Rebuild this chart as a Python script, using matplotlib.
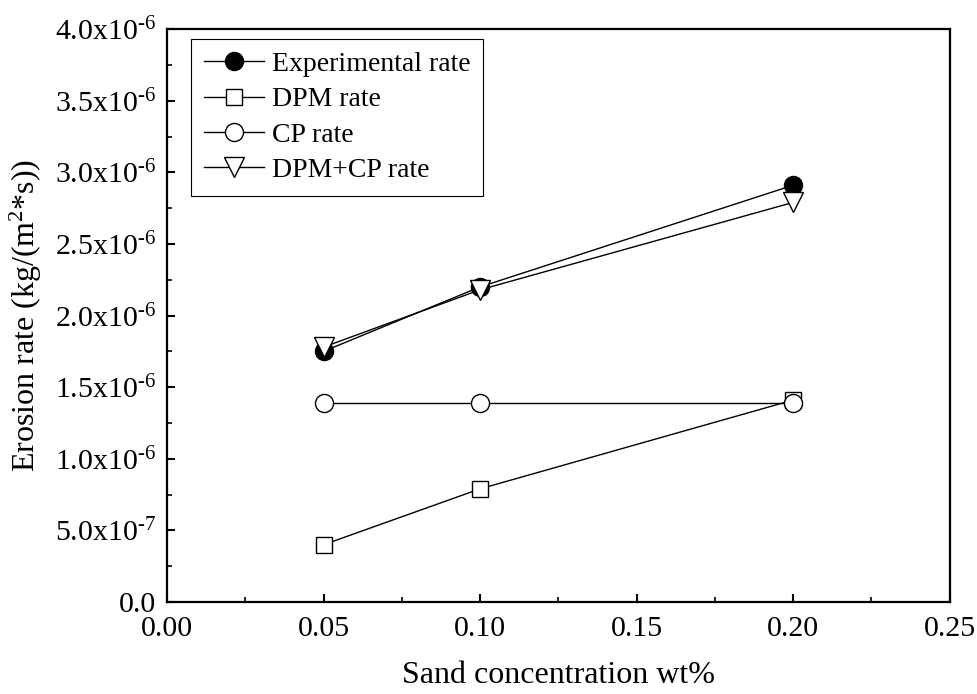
import matplotlib
matplotlib.use('Agg')
from matplotlib import pyplot as plt
from matplotlib.ticker import FixedLocator, FixedFormatter, MultipleLocator, FormatStrFormatter

# Данные
conc = [0.05, 0.10, 0.20]
exp_rate = [1.75e-6, 2.20e-6, 2.91e-6]
dpm_rate = [0.40e-6, 0.79e-6, 1.41e-6]
cp_rate = [1.39e-6, 1.39e-6, 1.39e-6]
dpm_cp_rate = [1.78e-6, 2.18e-6, 2.79e-6]

y_ticks = [0, 0.5e-6, 1.0e-6, 1.5e-6, 2.0e-6, 2.5e-6, 3.0e-6, 3.5e-6, 4.0e-6]
y_labels = ['0.0', r'5.0x10$^{\text{-7}}$', r'1.0x10$^{\text{-6}}$',
            r'1.5x10$^{\text{-6}}$', r'2.0x10$^{\text{-6}}$',
            r'2.5x10$^{\text{-6}}$', r'3.0x10$^{\text{-6}}$',
            r'3.5x10$^{\text{-6}}$', r'4.0x10$^{\text{-6}}$']

plt.rcParams['font.family'] = ['Liberation Serif', 'DejaVu Serif']
plt.rcParams['mathtext.fontset'] = 'custom'
plt.rcParams['mathtext.rm'] = 'Liberation Serif'
plt.rcParams['mathtext.it'] = 'Liberation Serif'
plt.rcParams['mathtext.default'] = 'regular'

fig = plt.figure(figsize=(9.77, 6.94), dpi=100)
ax = fig.add_axes([0.171, 0.1326, 0.801, 0.8254])

ax.plot(conc, exp_rate, color='black', lw=1.0, marker='o', markersize=13,
        markerfacecolor='black', markeredgecolor='black', label='Experimental rate')
ax.plot(conc, dpm_rate, color='black', lw=1.0, marker='s', markersize=11,
        markerfacecolor='white', markeredgecolor='black', markeredgewidth=1.0, label='DPM rate')
ax.plot(conc, cp_rate, color='black', lw=1.0, marker='o', markersize=13,
        markerfacecolor='white', markeredgecolor='black', markeredgewidth=1.0, label='CP rate')
ax.plot(conc, dpm_cp_rate, color='black', lw=1.0, marker='v', markersize=15,
        markerfacecolor='white', markeredgecolor='black', markeredgewidth=1.0, label='DPM+CP rate')

ax.set_xlim(0, 0.25)
ax.set_ylim(0, 4.0e-6)
ax.xaxis.set_major_locator(MultipleLocator(0.05))
ax.xaxis.set_minor_locator(MultipleLocator(0.025))
ax.xaxis.set_major_formatter(FormatStrFormatter('%.2f'))
ax.yaxis.set_major_locator(FixedLocator(y_ticks))
ax.yaxis.set_major_formatter(FixedFormatter(y_labels))
ax.yaxis.set_minor_locator(MultipleLocator(0.25e-6))

for s in ax.spines.values():
    s.set_linewidth(1.6)

ax.tick_params(which='major', direction='in', length=6, width=1.5, labelsize=21.5, pad=8)
ax.tick_params(axis='x', which='major', pad=10)
ax.tick_params(which='minor', direction='in', length=3.5, width=1.2)

ax.set_xlabel('Sand concentration wt%', fontsize=23, labelpad=14)
ax.set_ylabel(r'Erosion rate (kg/(m$^{\text{2}}$*s))', fontsize=23, labelpad=8)

leg = ax.legend(loc='upper left', bbox_to_anchor=(0.031, 0.983), borderaxespad=0,
                fontsize=20, fancybox=False, framealpha=1, edgecolor='black',
                handlelength=2.15, handletextpad=0.3, labelspacing=0.36, borderpad=0.45)
leg.get_frame().set_linewidth(0.8)

fig.savefig('out.png', dpi=100)
